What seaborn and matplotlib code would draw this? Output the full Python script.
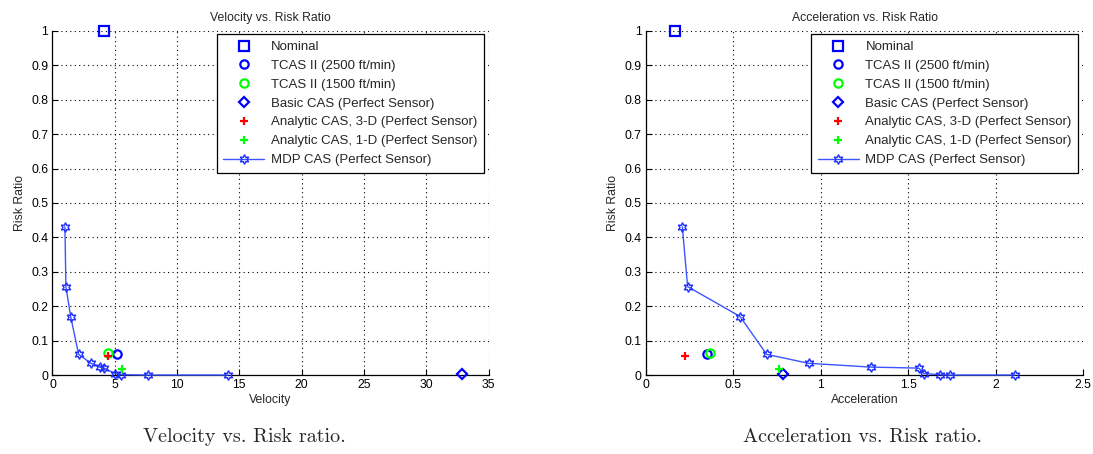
import numpy as np
import pandas as pd
import seaborn as sns
from matplotlib import pyplot as plt

# MDP CAS curve (velocity / acceleration vs risk ratio)
mdp_velocity = [1.0, 1.08, 1.46, 2.1, 3.09, 3.81, 4.16, 5.01, 5.47, 7.68, 14.1]
mdp_accel = [0.208, 0.238, 0.538, 0.69, 0.93, 1.285, 1.56, 1.59, 1.68, 1.74, 2.11]
mdp_risk = [0.431, 0.257, 0.170, 0.060, 0.034, 0.023, 0.020, 0.004, 0.001, 0.0, 0.0]

# single points: label, velocity, acceleration, risk
point_labels = ["Nominal", "TCAS II (2500 ft/min)", "TCAS II (1500 ft/min)",
                "Basic CAS (Perfect Sensor)", "Analytic CAS, 3-D (Perfect Sensor)",
                "Analytic CAS, 1-D (Perfect Sensor)"]
point_velocity = [4.15, 5.15, 4.48, 32.9, 4.48, 5.6]
point_accel = [0.166, 0.347, 0.366, 0.786, 0.223, 0.763]
point_risk = [1.0, 0.060, 0.063, 0.002, 0.055, 0.018]
point_colors = ["#0000ff", "#0000ff", "#00ff00", "#0000ff", "#ff0000", "#00ff00"]
point_markers = ["s", "o", "o", "D", "+", "+"]

sns.set_theme(style="ticks")
plt.rcParams['font.family'] = ['Liberation Sans', 'DejaVu Sans']

fig = plt.figure(figsize=(10.93, 4.54), dpi=100)
ax1 = fig.add_axes([0.048, 0.174, 0.399, 0.758])
ax2 = fig.add_axes([0.591, 0.174, 0.400, 0.758])


def draw(ax, px, mx, xlabel, title, xlim, xticks):
    for lab, x, y, c, m in zip(point_labels, px, point_risk, point_colors, point_markers):
        size = 7 if m == "s" else (6 if m != "D" else 5)
        face = c if m == "+" else "none"
        ax.plot([x], [y], linestyle="none", marker=m, markersize=size,
                markeredgecolor=c, markerfacecolor=face, markeredgewidth=1.6,
                label=lab, clip_on=False, zorder=4)
    df = pd.DataFrame({"x": mx, "risk": mdp_risk})
    sns.lineplot(data=df, x="x", y="risk", ax=ax, sort=False, color="#3d55ff",
                 linewidth=1.0, marker=(6, 1, 0), markersize=7,
                 markerfacecolor="none", markeredgecolor="#2030ff",
                 markeredgewidth=1.0, label="MDP CAS (Perfect Sensor)",
                 clip_on=False, zorder=3)
    ax.set_xlim(*xlim)
    ax.set_ylim(0, 1)
    ax.set_xticks(xticks)
    ax.set_yticks(np.arange(0, 1.01, 0.1))
    ax.set_yticklabels(["0", "0.1", "0.2", "0.3", "0.4", "0.5", "0.6", "0.7",
                        "0.8", "0.9", "1"])
    ax.set_xticklabels([("%g" % t) for t in xticks])
    ax.grid(True, linestyle=(0, (1, 3)), color="black", linewidth=0.8)
    for s in ["top", "right"]:
        ax.spines[s].set_visible(False)
    for s in ["left", "bottom"]:
        ax.spines[s].set_color("black")
        ax.spines[s].set_linewidth(0.9)
    ax.tick_params(direction="in", length=4, labelsize=8.8, colors="black",
                   width=0.8, pad=3)
    ax.set_xlabel(xlabel, fontsize=8.8, labelpad=2)
    ax.set_ylabel("Risk Ratio", fontsize=8.8, labelpad=4)
    ax.set_title(title, fontsize=8.8, pad=7)
    leg = ax.legend(loc="upper right", bbox_to_anchor=(0.989, 0.99), fontsize=9.5,
                    frameon=True, fancybox=False, edgecolor="black",
                    framealpha=1, labelspacing=0.5, handlelength=3.1,
                    borderpad=0.5, handletextpad=0.5, borderaxespad=0)
    leg.get_frame().set_linewidth(0.9)
    ax.set_facecolor("white")


draw(ax1, point_velocity, mdp_velocity, "Velocity", "Velocity vs. Risk Ratio",
     (0, 35), [0, 5, 10, 15, 20, 25, 30, 35])
draw(ax2, point_accel, mdp_accel, "Acceleration", "Acceleration vs. Risk Ratio",
     (0, 2.5), [0, 0.5, 1, 1.5, 2, 2.5])

fig.text(0.224, 0.037, "Velocity vs. Risk ratio.", ha="center", va="center",
         fontsize=14.5, family=["cmr10", "DejaVu Serif"])
fig.text(0.789, 0.037, "Acceleration vs. Risk ratio.", ha="center", va="center",
         fontsize=14.5, family=["cmr10", "DejaVu Serif"])

fig.savefig("out.png", dpi=100, facecolor="white")
